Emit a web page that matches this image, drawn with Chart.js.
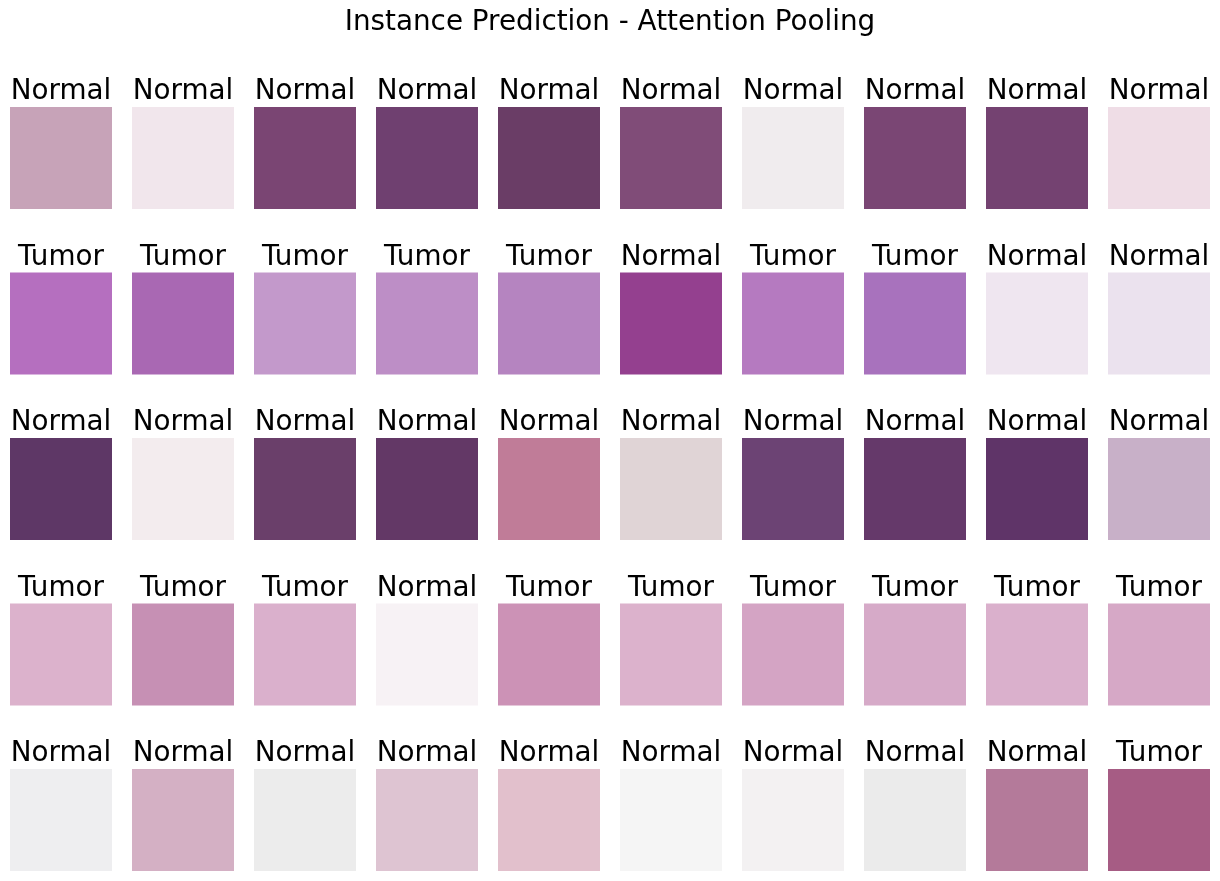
<!DOCTYPE html>
<html>
<head>
<meta charset="utf-8">
<script src="https://cdn.jsdelivr.net/npm/chart.js@4/dist/chart.umd.min.js"></script>
<style>
  html, body { margin: 0; padding: 0; background: #fff; }
  #wrap { width: 1220px; height: 881px; }
</style>
</head>
<body>
<div id="wrap"><canvas id="grid" width="1220" height="881"></canvas></div>
<script>
/* Instance prediction grid - one floating bar per tile, label above each */

const chartTitle = 'Instance Prediction - Attention Pooling';
const columns = ['1', '2', '3', '4', '5', '6', '7', '8', '9', '10'];

// predicted label per tile, one list per row
const row1Labels = ['Normal', 'Normal', 'Normal', 'Normal', 'Normal', 'Normal', 'Normal', 'Normal', 'Normal', 'Normal'];
const row2Labels = ['Tumor', 'Tumor', 'Tumor', 'Tumor', 'Tumor', 'Normal', 'Tumor', 'Tumor', 'Normal', 'Normal'];
const row3Labels = ['Normal', 'Normal', 'Normal', 'Normal', 'Normal', 'Normal', 'Normal', 'Normal', 'Normal', 'Normal'];
const row4Labels = ['Tumor', 'Tumor', 'Tumor', 'Normal', 'Tumor', 'Tumor', 'Tumor', 'Tumor', 'Tumor', 'Tumor'];
const row5Labels = ['Normal', 'Normal', 'Normal', 'Normal', 'Normal', 'Normal', 'Normal', 'Normal', 'Normal', 'Tumor'];

// average colour of each image patch
const row1Colors = ['#c7a3b8', '#f1e6ec', '#7a4573', '#6f4070', '#6a3d66', '#804c78', '#f0ecee', '#7a4674', '#744271', '#efdde6'];
const row2Colors = ['#b56fbf', '#a968b3', '#c399cb', '#bd8ec6', '#b584c0', '#94408f', '#b57ac0', '#a872bd', '#efe6f0', '#ebe2ee'];
const row3Colors = ['#5e3766', '#f3ecee', '#6a3f6a', '#633866', '#c07c98', '#e0d4d6', '#6c4374', '#65396a', '#5f3468', '#c8b0c8'];
const row4Colors = ['#dcb2cc', '#c690b4', '#dab0cc', '#f7f2f5', '#cc92b6', '#dcb2cc', '#d4a4c4', '#d6aac8', '#dab0cc', '#d6a8c6'];
const row5Colors = ['#eeeef0', '#d4b0c4', '#ececec', '#dec4d2', '#e2c0cc', '#f5f5f5', '#f3f1f2', '#ebebeb', '#b47a9a', '#a65c84'];

const rowLabels = [row1Labels, row2Labels, row3Labels, row4Labels, row5Labels];
const rowColors = [row1Colors, row2Colors, row3Colors, row4Colors, row5Colors];

const TILE = 102 / 165.5; // tile height in row units

const datasets = rowLabels.map((labels, r) => ({
  label: 'row ' + (r + 1),
  data: labels.map(() => [r, r + TILE]),
  tileLabels: labels,
  backgroundColor: rowColors[r],
  borderWidth: 0,
  grouped: false,
  barPercentage: 102 / 122,
  categoryPercentage: 1
}));

const FONT = '27.8px "DejaVu Sans", sans-serif';

const labelPlugin = {
  id: 'tileLabels',
  afterDatasetsDraw(chart) {
    const ctx = chart.ctx;
    ctx.save();
    ctx.font = FONT;
    ctx.fillStyle = '#000';
    ctx.textAlign = 'center';
    ctx.textBaseline = 'alphabetic';
    chart.data.datasets.forEach((ds, i) => {
      chart.getDatasetMeta(i).data.forEach((bar, j) => {
        const top = Math.min(bar.y, bar.base);
        ctx.fillText(ds.tileLabels[j], bar.x, top - 8);
      });
    });
    ctx.textBaseline = 'top';
    ctx.fillText(chartTitle, chart.width / 2, 9);
    ctx.restore();
  }
};

new Chart(document.getElementById('grid'), {
  type: 'bar',
  data: { labels: columns, datasets },
  options: {
    responsive: false,
    animation: false,
    layout: { padding: 0 },
    plugins: { legend: { display: false }, tooltip: { enabled: false }, title: { display: false } },
    scales: {
      x: { display: false, offset: true },
      y: { display: false, reverse: true, min: -107 / 165.5, max: -107 / 165.5 + 881 / 165.5 }
    }
  },
  plugins: [labelPlugin]
});
</script>
</body>
</html>
